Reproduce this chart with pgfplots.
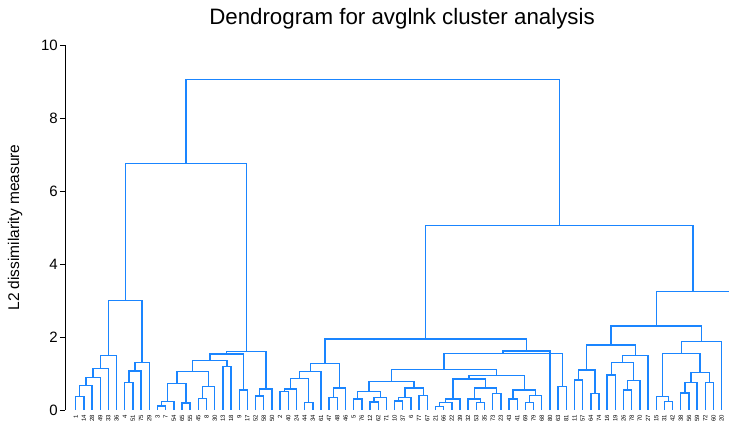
\documentclass[border=0pt]{standalone}
\usepackage{pgfplots}
\pgfplotsset{compat=1.18}
\usepackage{fontspec}
\setmainfont{Liberation Sans}
\definecolor{stc}{RGB}{26,133,255}
\begin{document}
\begin{tikzpicture}[x=1pt,y=1pt]
\useasboundingbox (0,0) rectangle (729,422);
\begin{axis}[
  at={(65pt,12pt)}, anchor=south west,
  scale only axis, width=664pt, height=365pt,
  xmin=-1.31, xmax=79.9, ymin=0, ymax=10,
  axis y line*=left, axis x line*=bottom,
  x axis line style={draw=none},
  y axis line style={black, line width=0.7pt, -},
  ytick={0,2,4,6,8,10},
  tick align=outside,
  ytick style={black, line width=0.7pt},
  major tick length=5pt,
  xtick style={draw=none},
  /pgf/number format/assume math mode=true,
  yticklabel style={font=\fontsize{15}{15}\selectfont, inner sep=2pt},
  ylabel={L2 dissimilarity measure},
  ylabel style={font=\fontsize{15.5}{15.5}\selectfont, at={(axis description cs:-0.0753,0.5)}, anchor=center},
  xtick={0,1,...,80},
  xticklabels={1,14,28,49,33,36,4,51,75,29,3,7,54,65,55,45,8,30,13,18,9,17,52,58,50,2,40,24,44,34,61,47,48,46,5,76,12,62,71,10,37,6,77,67,21,66,22,39,32,53,35,73,23,43,41,69,79,68,80,63,81,11,57,64,74,16,19,26,78,70,27,15,31,42,38,56,59,72,60,20,25},
  xticklabel style={rotate=90, anchor=east, inner sep=0pt, font=\fontsize{6}{6}\selectfont},
  unbounded coords=jump,
]
\addplot[stc, line width=1.4pt] coordinates {
(0,0) (0,0.37) (1,0.37) (1,0) (nan,nan)
(0.5,0.37) (0.5,0.67) (2,0.67) (2,0) (nan,nan)
(1.25,0.67) (1.25,0.89) (3,0.89) (3,0) (nan,nan)
(2.125,0.89) (2.125,1.14) (4,1.14) (4,0) (nan,nan)
(3.0625,1.14) (3.0625,1.5) (5,1.5) (5,0) (nan,nan)
(6,0) (6,0.75) (7,0.75) (7,0) (nan,nan)
(6.5,0.75) (6.5,1.07) (8,1.07) (8,0) (nan,nan)
(7.25,1.07) (7.25,1.3) (9,1.3) (9,0) (nan,nan)
(4.03125,1.5) (4.03125,3.0) (8.125,3.0) (8.125,1.3) (nan,nan)
(10,0) (10,0.11) (11,0.11) (11,0) (nan,nan)
(10.5,0.11) (10.5,0.23) (12,0.23) (12,0) (nan,nan)
(13,0) (13,0.19) (14,0.19) (14,0) (nan,nan)
(11.25,0.23) (11.25,0.72) (13.5,0.72) (13.5,0.19) (nan,nan)
(15,0) (15,0.32) (16,0.32) (16,0) (nan,nan)
(15.5,0.32) (15.5,0.64) (17,0.64) (17,0) (nan,nan)
(12.375,0.72) (12.375,1.05) (16.25,1.05) (16.25,0.64) (nan,nan)
(18,0) (18,1.19) (19,1.19) (19,0) (nan,nan)
(14.3125,1.05) (14.3125,1.35) (18.5,1.35) (18.5,1.19) (nan,nan)
(20,0) (20,0.55) (21,0.55) (21,0) (nan,nan)
(16.40625,1.35) (16.40625,1.53) (20.5,1.53) (20.5,0.55) (nan,nan)
(22,0) (22,0.38) (23,0.38) (23,0) (nan,nan)
(22.5,0.38) (22.5,0.57) (24,0.57) (24,0) (nan,nan)
(18.453,1.53) (18.453,1.6) (23.25,1.6) (23.25,0.57) (nan,nan)
(6.078,3.0) (6.078,6.75) (20.852,6.75) (20.852,1.6) (nan,nan)
(25,0) (25,0.5) (26,0.5) (26,0) (nan,nan)
(25.5,0.5) (25.5,0.57) (27,0.57) (27,0) (nan,nan)
(28,0) (28,0.2) (29,0.2) (29,0) (nan,nan)
(26.25,0.57) (26.25,0.87) (28.5,0.87) (28.5,0.2) (nan,nan)
(27.375,0.87) (27.375,1.05) (30,1.05) (30,0) (nan,nan)
(31,0) (31,0.35) (32,0.35) (32,0) (nan,nan)
(31.5,0.35) (31.5,0.6) (33,0.6) (33,0) (nan,nan)
(28.6875,1.05) (28.6875,1.28) (32.25,1.28) (32.25,0.6) (nan,nan)
(34,0) (34,0.3) (35,0.3) (35,0) (nan,nan)
(36,0) (36,0.22) (37,0.22) (37,0) (nan,nan)
(36.5,0.22) (36.5,0.35) (38,0.35) (38,0) (nan,nan)
(34.5,0.3) (34.5,0.5) (37.25,0.5) (37.25,0.35) (nan,nan)
(39,0) (39,0.25) (40,0.25) (40,0) (nan,nan)
(39.5,0.25) (39.5,0.35) (41,0.35) (41,0) (nan,nan)
(42,0) (42,0.4) (43,0.4) (43,0) (nan,nan)
(40.25,0.35) (40.25,0.6) (42.5,0.6) (42.5,0.4) (nan,nan)
(35.875,0.5) (35.875,0.78) (41.375,0.78) (41.375,0.6) (nan,nan)
(44,0) (44,0.1) (45,0.1) (45,0) (nan,nan)
(44.5,0.1) (44.5,0.2) (46,0.2) (46,0) (nan,nan)
(45.25,0.2) (45.25,0.3) (47,0.3) (47,0) (nan,nan)
(49,0) (49,0.2) (50,0.2) (50,0) (nan,nan)
(48,0) (48,0.3) (49.5,0.3) (49.5,0.2) (nan,nan)
(51,0) (51,0.45) (52,0.45) (52,0) (nan,nan)
(48.75,0.3) (48.75,0.6) (51.5,0.6) (51.5,0.45) (nan,nan)
(46.125,0.3) (46.125,0.85) (50.125,0.85) (50.125,0.6) (nan,nan)
(53,0) (53,0.3) (54,0.3) (54,0) (nan,nan)
(55,0) (55,0.2) (56,0.2) (56,0) (nan,nan)
(55.5,0.2) (55.5,0.4) (57,0.4) (57,0) (nan,nan)
(53.5,0.3) (53.5,0.55) (56.25,0.55) (56.25,0.4) (nan,nan)
(48.125,0.85) (48.125,0.95) (54.875,0.95) (54.875,0.55) (nan,nan)
(38.625,0.78) (38.625,1.11) (51.5,1.11) (51.5,0.95) (nan,nan)
(59,0) (59,0.64) (60,0.64) (60,0) (nan,nan)
(45.0625,1.11) (45.0625,1.55) (59.5,1.55) (59.5,0.64) (nan,nan)
(52.28,1.55) (52.28,1.62) (58,1.62) (58,0) (nan,nan)
(30.469,1.28) (30.469,1.95) (55.14,1.95) (55.14,1.62) (nan,nan)
(61,0) (61,0.82) (62,0.82) (62,0) (nan,nan)
(63,0) (63,0.46) (64,0.46) (64,0) (nan,nan)
(61.5,0.82) (61.5,1.1) (63.5,1.1) (63.5,0.46) (nan,nan)
(65,0) (65,0.96) (66,0.96) (66,0) (nan,nan)
(67,0) (67,0.55) (68,0.55) (68,0) (nan,nan)
(67.5,0.55) (67.5,0.8) (69,0.8) (69,0) (nan,nan)
(65.5,0.96) (65.5,1.3) (68.25,1.3) (68.25,0.8) (nan,nan)
(66.875,1.3) (66.875,1.5) (70,1.5) (70,0) (nan,nan)
(62.5,1.1) (62.5,1.78) (68.4375,1.78) (68.4375,1.5) (nan,nan)
(72,0) (72,0.23) (73,0.23) (73,0) (nan,nan)
(71,0) (71,0.37) (72.5,0.37) (72.5,0.23) (nan,nan)
(74,0) (74,0.47) (75,0.47) (75,0) (nan,nan)
(74.5,0.47) (74.5,0.75) (76,0.75) (76,0) (nan,nan)
(77,0) (77,0.75) (78,0.75) (78,0) (nan,nan)
(75.25,0.75) (75.25,1.02) (77.5,1.02) (77.5,0.75) (nan,nan)
(71.75,0.37) (71.75,1.55) (76.375,1.55) (76.375,1.02) (nan,nan)
(74.0625,1.55) (74.0625,1.87) (79,1.87) (79,0) (nan,nan)
(65.469,1.78) (65.469,2.3) (76.531,2.3) (76.531,1.87) (nan,nan)
(71.0,2.3) (71.0,3.25) (80,3.25) (80,0) (nan,nan)
(42.80,1.95) (42.80,5.05) (75.5,5.05) (75.5,3.25) (nan,nan)
(13.465,6.75) (13.465,9.05) (59.15,9.05) (59.15,5.05)
};
\end{axis}
\node[anchor=base, font=\fontsize{22.3}{22.3}\selectfont, inner sep=0pt] at (402,397) {Dendrogram for avglnk cluster analysis};
\end{tikzpicture}
\end{document}
